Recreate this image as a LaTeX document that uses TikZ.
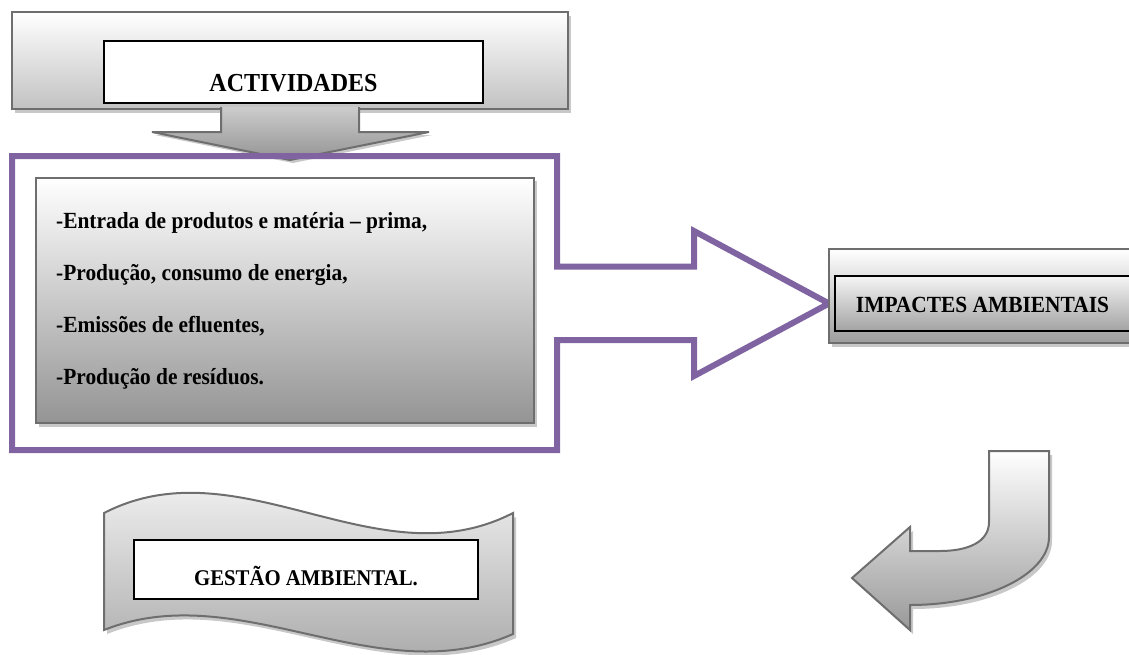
\documentclass[tikz,border=0pt]{standalone}
\usepackage{fontspec}
\setmainfont{Liberation Serif}
\definecolor{purp}{RGB}{128,100,162}
\definecolor{edgegray}{RGB}{110,110,110}
\definecolor{shadowgray}{RGB}{200,200,200}
\newcommand{\tallbf}[1]{\scalebox{1}[1.08]{#1}}
\begin{document}
\begin{tikzpicture}[x=1pt,y=-1pt,
  edge/.style={draw=edgegray,line width=2pt,line join=miter},
  drop/.style={fill=shadowgray,draw=none},
  inbox/.style={draw=black,line width=1.6pt},
  lbl/.style={font=\bfseries\fontsize{21.4}{25}\selectfont,inner sep=0pt},
  biglbl/.style={font=\bfseries\fontsize{24}{29}\selectfont,inner sep=0pt},
  frame/.style={draw=purp,line width=6pt,line join=miter}]
\useasboundingbox (0,0) rectangle (1129,654);

% --- ACTIVIDADES block with its down arrow ---
\fill[drop] (15,16) rectangle (571,113);
\path[edge,top color=white,bottom color=black!24] (12,12) rectangle (568,109);
\fill[drop] (155,135) -- (293,163) -- (432,135) -- cycle;
\path[edge,top color=black!20,bottom color=black!42]
  (221,107) -- (221,132) -- (152,132) -- (290,160) -- (429,132) -- (359,132) -- (359,107);
\path[inbox,fill=white] (104,41) rectangle (483,103);
\node[biglbl,anchor=base] (act) at (293.5,91) {\tallbf{ACTIVIDADES}};

% --- list of activities ---
\fill[drop] (39,181) rectangle (537,427);
\path[draw=edgegray,line width=2.5pt,top color=white,bottom color=black!42] (36,178) rectangle (534,423);
\node[lbl,anchor=base west] (l1) at (56,228) {\tallbf{-Entrada de produtos e matéria – prima,}};
\node[lbl,anchor=base west] (l2) at (56,280) {\tallbf{-Produção, consumo de energia,}};
\node[lbl,anchor=base west] (l3) at (56,332) {\tallbf{-Emissões de efluentes,}};
\node[lbl,anchor=base west] (l4) at (56,384) {\tallbf{-Produção de resíduos.}};

% --- purple block arrow outline ---
\draw[frame] (12,156) -- (557,156) -- (557,266.5) -- (694,266.5) -- (694,231)
  -- (829,303.5) -- (694,376) -- (694,340) -- (557,340) -- (557,450) -- (12,450) -- cycle;

% --- IMPACTES AMBIENTAIS ---
\fill[drop] (832,253) rectangle (1140,347);
\path[edge,top color=white,bottom color=black!38] (829,249) rectangle (1140,343);
\path[inbox,top color=black!4,bottom color=black!36] (835,276) rectangle (1140,331);
\node[lbl,anchor=base] (imp) at (982.5,312) {\tallbf{IMPACTES AMBIENTAIS}};

% --- curved return arrow ---
\def\returnarrow{(989,451) -- (1049,451) -- (1049,537) .. controls (1049,574) and (987,605) .. (910,605)
  -- (910,630) -- (852,578) -- (910,527) -- (910,551) -- (940,551)
  .. controls (968,551) and (989,542) .. (989,522) -- cycle}
\fill[drop,shift={(3,4)}] \returnarrow;
\path[edge,top color=white,bottom color=black!40] \returnarrow;

% --- GESTÃO AMBIENTAL wave ---
\def\tape{(104,513) .. controls (240,443) and (377,583) .. (513,513) -- (513,634)
  .. controls (377,694) and (240,576) .. (104,630) -- cycle}
\fill[drop,shift={(3,4)}] \tape;
\path[edge,top color=white,bottom color=black!38] \tape;
\path[inbox,fill=white] (134,540) rectangle (478,599);
\node[lbl,font=\bfseries\fontsize{20.8}{25}\selectfont,anchor=base] (ges) at (306,585) {\tallbf{GESTÃO AMBIENTAL.}};
\end{tikzpicture}
\end{document}
